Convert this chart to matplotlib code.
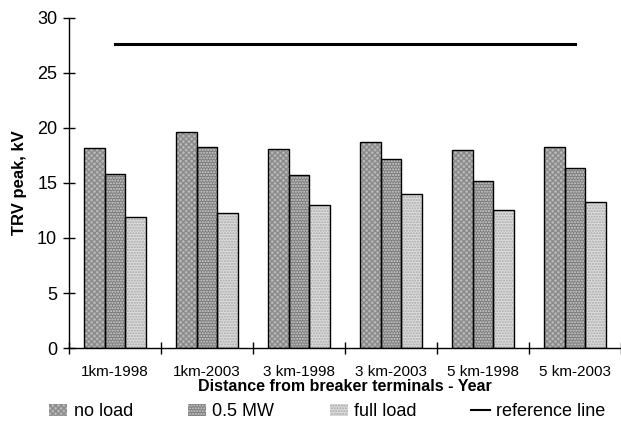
import numpy as np
import matplotlib
matplotlib.use("Agg")
import matplotlib.pyplot as plt
from matplotlib.patches import Patch
from matplotlib.lines import Line2D

plt.rcParams['font.family'] = ['Liberation Sans', 'DejaVu Sans']

categories = ["1km-1998", "1km-2003", "3 km-1998", "3 km-2003", "5 km-1998", "5 km-2003"]
no_load = [18.2, 19.6, 18.1, 18.7, 18.0, 18.3]
half_mw = [15.8, 18.3, 15.7, 17.2, 15.2, 16.4]
full_load = [11.9, 12.3, 13.0, 14.0, 12.5, 13.3]
reference = [27.6, 27.6, 27.6, 27.6, 27.6, 27.6]

series = [("no load", no_load, "#b8b8b8", "xxxxxx", "#8a8a8a"),
          ("0.5 MW", half_mw, "#7c7c7c", "......", "#d0d0d0"),
          ("full load", full_load, "#dcdcdc", "......", "#a8a8a8")]

fig = plt.figure(figsize=(6.21, 4.25), dpi=100)
ax = fig.add_axes([0.111, 0.181, 0.889, 0.777])

x = np.arange(len(categories))
w = 0.225
handles = []
for i, (name, vals, fc, hatch, hc) in enumerate(series):
    pos = x + (i - 1) * w
    ax.bar(pos, vals, w, color=fc, edgecolor=hc, hatch=hatch, linewidth=0, zorder=2)
    ax.bar(pos, vals, w, facecolor="none", edgecolor="black", linewidth=1.0, zorder=3)
    handles.append(Patch(facecolor=fc, edgecolor=hc, hatch=hatch, linewidth=0))

ax.plot(x, reference, color="black", linewidth=2.2, zorder=4)
handles.append(Line2D([0], [0], color="black", linewidth=1.5))

ax.set_xlim(-0.5, 5.5)
ax.set_ylim(0, 30)
ax.set_yticks(range(0, 31, 5))
ax.tick_params(axis="y", direction="inout", length=9, width=1, labelsize=13, pad=4)
ax.set_xticks(x, categories)
ax.tick_params(axis="x", which="major", length=0, labelsize=11, pad=12)
ax.set_xticks(np.arange(-0.5, 6, 1), minor=True)
ax.tick_params(axis="x", which="minor", direction="inout", length=8, width=1)

for s in ["top", "right"]:
    ax.spines[s].set_visible(False)
ax.spines["left"].set_linewidth(1.0)
ax.spines["bottom"].set_linewidth(1.0)

ax.set_ylabel("TRV peak, kV", fontsize=12, fontweight="bold")
ax.yaxis.set_label_coords(-0.076, 0.5)
ax.set_xlabel("Distance from breaker terminals - Year", fontsize=11.5, fontweight="bold")
ax.xaxis.set_label_coords(0.5, -0.094)

fig.legend(handles, ["no load", "0.5 MW", "full load", "reference line"],
           loc="center", bbox_to_anchor=(0.527, 0.031), ncol=4, frameon=False,
           fontsize=13, handlelength=1.0, handleheight=0.6, handletextpad=0.35,
           columnspacing=3.05, borderpad=0)

fig.savefig("out.png", dpi=100)
